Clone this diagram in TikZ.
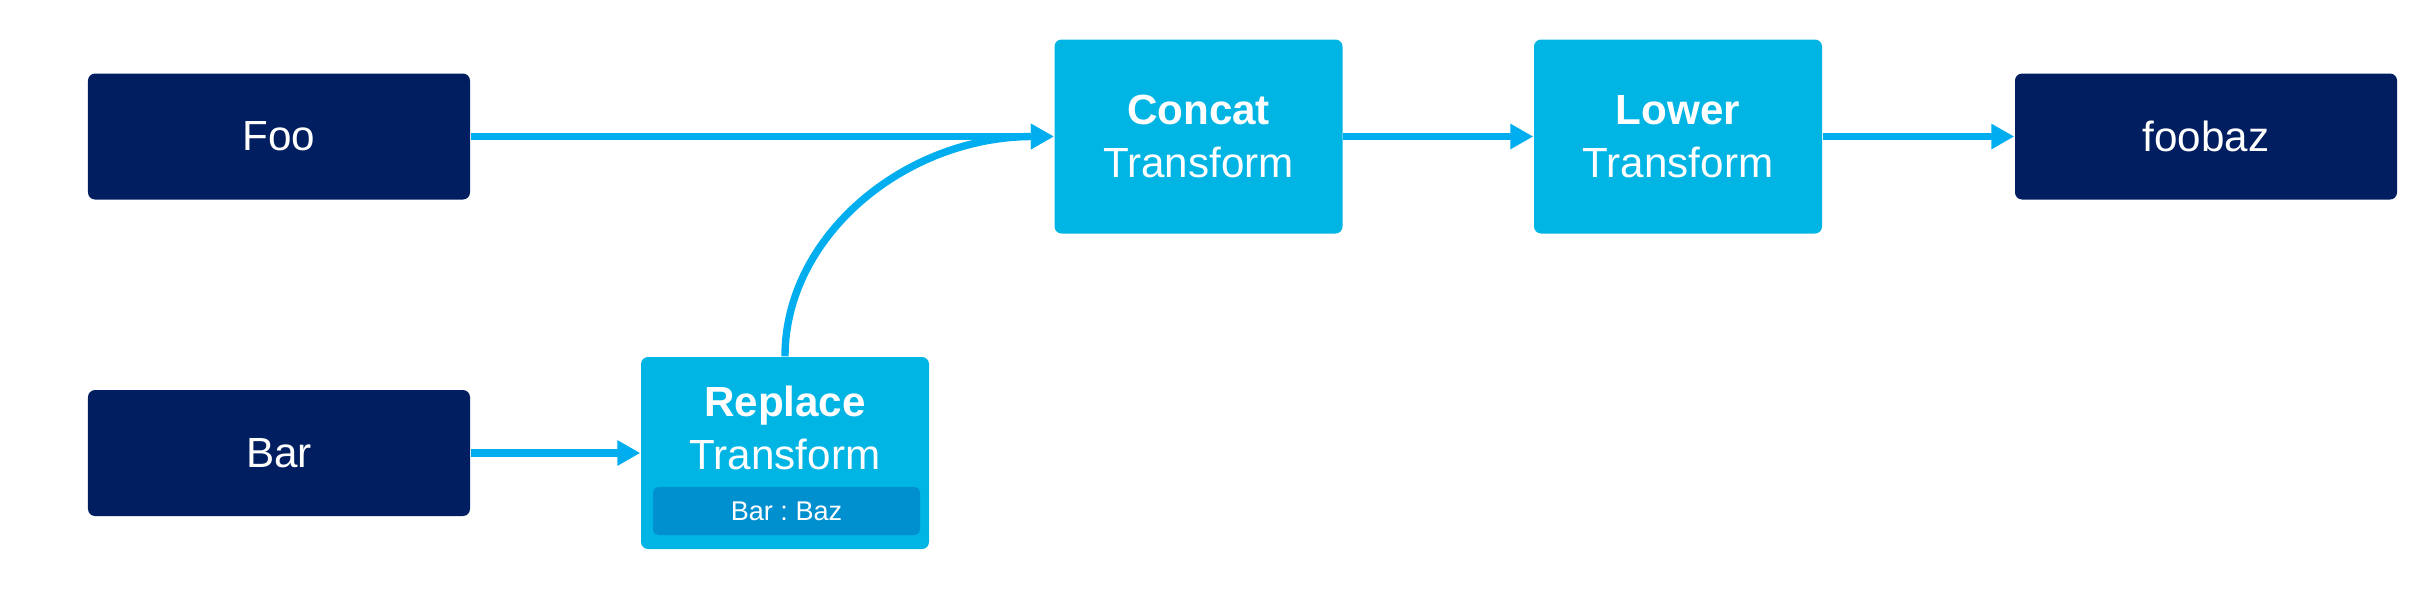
\documentclass[tikz,border=0pt]{standalone}
\usepackage{fontspec}
\setmainfont{Liberation Sans}
\usetikzlibrary{arrows.meta}

\definecolor{navy}{RGB}{0,30,96}
\definecolor{xfblue}{RGB}{0,180,228}
\definecolor{argblue}{RGB}{0,143,207}
\definecolor{flowblue}{RGB}{0,174,239}

\begin{document}
\frenchspacing
\begin{tikzpicture}[
    font=\fontsize{12}{15}\selectfont,
    io/.style={fill=navy, text=white, rounded corners=2pt, inner sep=0pt,
        minimum width=3.82cm, minimum height=1.26cm},
    xform/.style={fill=xfblue, text=white, rounded corners=2pt, inner sep=0pt,
        minimum width=2.88cm, minimum height=1.94cm, align=center},
    argbox/.style={fill=argblue, text=white, rounded corners=1.5pt, inner sep=0pt,
        minimum width=2.67cm, minimum height=0.48cm,
        font=\fontsize{7.7}{9}\selectfont},
    flow/.style={draw=flowblue, line width=2.1pt,
        -{Triangle[length=6.5pt, width=6.8pt]}}
]
    \useasboundingbox (0,0) rectangle (24.32,-5.91);

    % Eingaben
    \node[io] (foo) at (2.79,-1.365) {Foo};
    \node[io] (bar) at (2.79,-4.53) {Bar};

    % Transformationen
    \node[xform, minimum height=1.92cm] (replace) at (7.85,-4.53) {};
    \node[text=white, align=center, inner sep=0pt] (replacetxt) at (7.85,-4.28)
        {\bfseries Replace\\Transform};
    \node[argbox] (barbaz) at (7.865,-5.11) {Bar : Baz};
    \node[xform] (concat) at (11.985,-1.365) {\bfseries Concat\\Transform};
    \node[xform] (lower) at (16.78,-1.365) {\bfseries Lower\\Transform};

    % Ausgabe
    \node[io] (foobaz) at (22.06,-1.365) {foobaz};

    % Pfeile
    \draw[flow] (foo.east) -- (concat.west);
    \draw[flow] (bar.east) -- (replace.west);
    \draw[flow] (replace.north) .. controls ++(0,1.21) and ++(-1.48,0) .. (concat.west);
    \draw[flow] (concat.east) -- (lower.west);
    \draw[flow] (lower.east) -- (foobaz.west);
\end{tikzpicture}
\end{document}
